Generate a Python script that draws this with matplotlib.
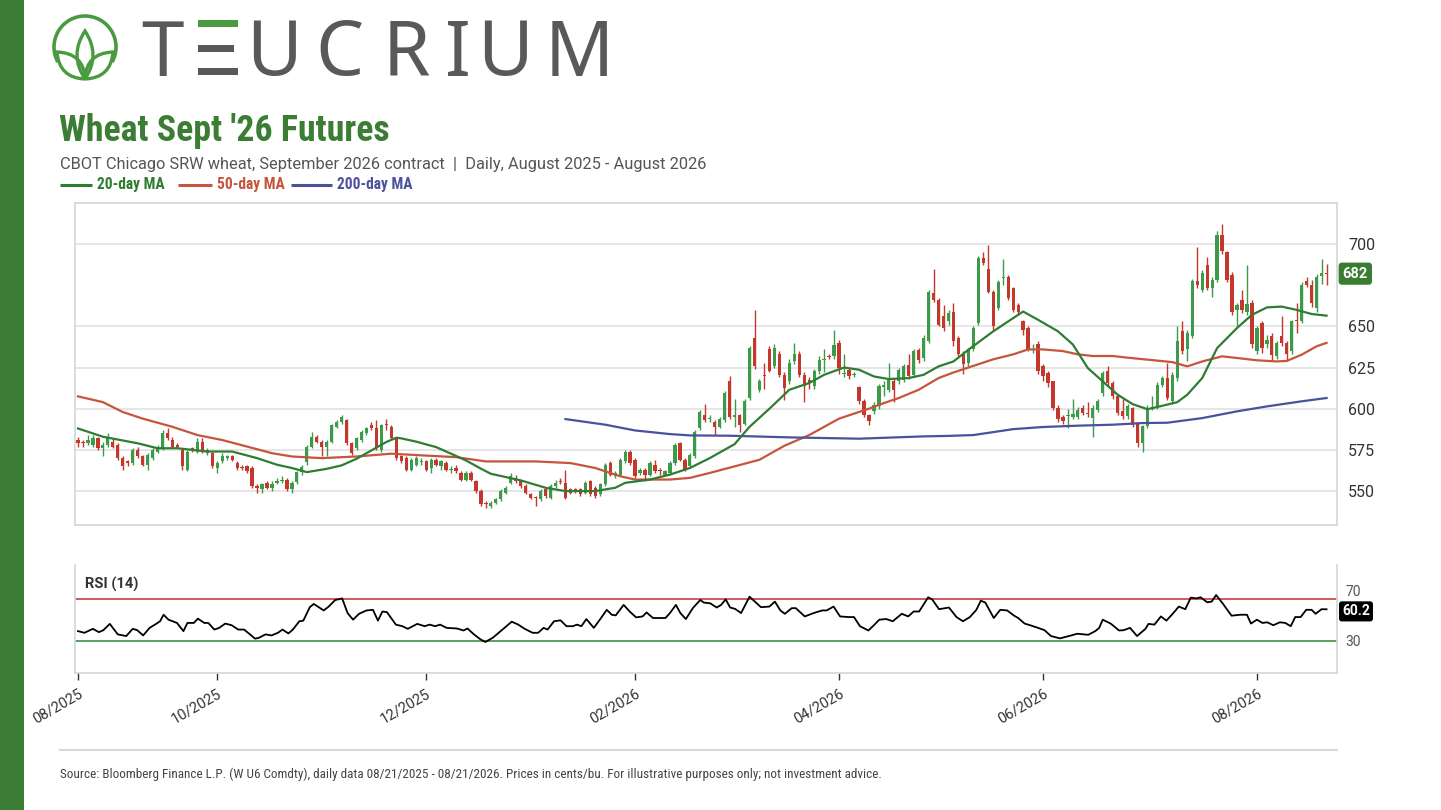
import numpy as np
import pandas as pd
import matplotlib
matplotlib.use("Agg")
import matplotlib.pyplot as plt
from matplotlib import font_manager
from matplotlib.path import Path
from matplotlib.patches import PathPatch, Arc, Rectangle
import matplotlib.transforms as mtransforms

# --- daily OHLC, W U6 (cents/bu) ---
opens = [
    581, 580, 579, 578, 582, 576, 578, 580, 578, 570,
    568, 567, 575, 571, 566, 570, 574, 576, 585, 581,
    578, 575, 563, 576, 574, 580, 573, 573, 564, 568,
    570, 571, 567, 564.5, 565, 564, 553, 551, 555, 552,
    555, 556, 557, 551, 555.5, 561.5, 567.6, 576.7, 582.8, 580,
    577, 580, 589, 592, 593, 579, 576, 581, 585, 590,
    588, 575, 591, 589, 582, 571, 570, 563, 566, 567.5,
    568, 564, 569, 565, 567, 563, 564, 561, 557, 561,
    556, 550, 542.5, 541, 543, 545, 549, 555, 558, 556,
    553, 548, 546.5, 545, 551, 546, 553, 556, 555, 551,
    551, 551, 549, 556, 552, 548, 554, 567, 559, 560,
    568, 574, 569, 561, 563, 560, 566, 562.5, 560, 561,
    567, 579, 569, 565, 571, 588, 596, 593.5, 592, 589,
    593, 617, 595, 596, 591, 606.5, 643, 611.5, 620.5, 636,
    626, 633, 620.6, 616.6, 629, 633, 620.6, 617.6, 613.6, 622.7,
    629.5, 632, 631.8, 640, 621, 623.7, 620.4, 613, 604.5, 596.4,
    598.4, 601.4, 613.4, 611.5, 616.6, 616.6, 617.6, 626.7, 620.6, 635.8,
    630.8, 641, 670, 666, 656, 653, 659, 643, 634, 628,
    636, 652, 691.5, 685, 671, 661, 679.5, 680, 673, 663,
    653, 649, 635.5, 639, 625.7, 621.7, 616.6, 600.4, 594.7, 595.5,
    595, 595, 600.4, 597.5, 594.3, 599.4, 609.5, 622.7, 615.6, 607.5,
    598.4, 595.3, 600.4, 591.3, 579, 589.3, 600, 601.4, 614.6, 618.6,
    604.5, 618.6, 647, 636, 644, 677.3, 672.3, 687.4, 673, 678.3,
    705.3, 695, 681.4, 660, 666, 659, 664, 635, 652, 639,
    644, 632, 644, 640, 635, 653.2, 653, 677.3, 675.3, 661,
    680.4, 682.6,
]
highs = [
    583, 581, 584, 584, 583, 580, 585, 582, 579, 571,
    569, 576, 577, 572, 573, 576, 578, 587, 588, 583,
    579, 576, 575, 577, 582, 582, 576, 574, 568, 573,
    572, 572, 568, 566, 566, 565, 554, 555, 556, 556,
    558, 559, 558, 556, 562, 566, 578, 586, 584, 581,
    581, 591, 593, 596, 594, 580, 583, 587, 589, 592,
    593, 591, 594, 590, 583, 572, 571, 570, 571, 570,
    569, 570, 570, 569, 568, 565, 566, 562, 562, 562,
    557, 551, 544, 544, 546, 551, 553, 561, 560, 557,
    554, 549, 547, 551, 552, 554, 557, 558, 563, 552,
    552, 552, 556, 557, 553, 555, 567, 568, 562, 570,
    575, 575, 570, 564, 564, 568, 569, 564, 563, 568,
    579, 580, 570, 573, 587, 599, 603, 596, 593, 595,
    611, 620, 606, 597, 606, 638, 660, 618, 628, 638,
    639, 635, 622, 630, 640, 635, 622, 619, 624, 632,
    636, 633, 648, 642, 633, 625, 622, 614, 606, 597,
    604, 615, 617, 628, 618, 625, 627, 633, 636, 637,
    645, 672, 685, 667, 663, 660, 664, 644, 635, 637,
    650, 693, 695, 699.5, 672, 678, 691, 681, 674, 664,
    654, 650, 639, 641, 627, 623, 617, 602, 596, 600,
    606, 601, 602, 604, 602, 606, 623, 626, 617, 609,
    606, 603, 601, 592, 590, 602, 608, 616, 620, 628,
    622, 650, 653, 648, 679, 698, 684, 692, 680, 708,
    712, 696, 683, 664, 672, 687, 666, 650, 653, 645,
    646, 641, 656, 641, 654, 664, 677, 680, 678, 682,
    691, 688,
]
lows = [
    577, 577, 578, 577, 575, 571, 577, 576, 569, 563,
    565, 566, 570, 565, 563, 569, 573, 575, 581, 576,
    576, 563, 562, 574, 573, 573, 572, 564, 561, 567,
    569, 568, 563, 563, 561, 552, 549, 549, 551, 550,
    554, 555, 550, 549, 554, 560, 566, 576, 579, 571,
    571, 579, 588, 591, 578, 572, 575, 580, 584, 587,
    575, 574, 587, 581, 569, 567, 562, 562, 565, 566,
    562, 561, 565, 563, 562, 561, 561, 556, 556, 556,
    549, 541, 540, 540, 542, 544, 548, 554, 555, 552,
    548, 545, 541, 544, 546, 545, 552, 554, 545, 548,
    549, 547, 548, 547, 546, 547, 553, 559, 558, 559,
    567, 566, 558, 560, 556, 559, 561, 560, 559, 560,
    566, 568, 562, 564, 570, 587, 592, 592, 584, 588,
    592, 594, 589, 586, 590, 605, 624, 610, 612, 622,
    625, 619, 605, 615, 627, 619, 604, 612, 612, 621,
    622, 630, 630, 621, 619, 618, 619, 603, 595, 590,
    597, 600, 608, 610, 604, 615, 616, 618, 619, 628,
    629, 640, 665, 650, 647, 651, 638, 632, 621, 626,
    635, 651, 687, 670, 648, 660, 675, 666, 659, 657,
    645, 635, 634, 621, 617, 613, 599, 592, 591, 588,
    594, 594, 596, 595, 583, 598, 608, 614, 606, 596,
    594, 594, 589, 577, 574, 588, 599, 600, 613, 605,
    603, 617, 633, 629, 643, 673, 671, 672, 668, 677,
    694, 677, 657, 650, 658, 657, 637, 633, 634, 637,
    629, 630, 638, 629, 633, 646, 652, 674, 662, 659,
    676, 675,
]
closes = [
    579, 579, 581, 582, 576, 578, 583, 577, 570, 565,
    567, 575, 571, 566, 572, 575, 577, 585, 582, 577,
    577, 565, 574, 575, 580, 574, 575, 565, 567, 571,
    571, 569, 564, 564, 562, 553, 552, 554, 552, 554,
    556, 557, 551, 555, 561.5, 564.6, 576.7, 582.8, 579.8, 577,
    580, 590, 592, 595, 579, 573, 582, 586, 588, 588,
    576, 590, 590, 582, 570, 568, 563, 569, 570, 568.5,
    563, 569, 566, 568, 563, 563.5, 562, 557, 561, 557,
    550, 542, 542, 543, 545, 550, 552, 559, 556, 553,
    549, 546, 546, 550, 547, 553, 555, 555.5, 546, 549,
    550.5, 548, 555, 548, 547, 554, 566, 560, 561, 569,
    574, 567, 559, 563, 560, 567, 562, 562, 562, 567,
    578, 569, 563, 572, 585.6, 598, 593, 594, 589, 594,
    609.5, 595, 596, 590, 604.5, 637, 626, 616.6, 620, 623,
    637, 620.6, 612.5, 628, 633, 620.6, 613.6, 615.6, 622.7, 629.8,
    629.8, 631.5, 638.9, 624.7, 621.5, 619.6, 620.6, 604.5, 596.4, 592.3,
    602.4, 613.6, 613.6, 617.6, 611.5, 623.7, 625.7, 619.6, 634.8, 629.8,
    643, 671, 666, 651, 649, 658, 641, 633, 627, 636,
    649, 691.5, 688.5, 671, 650, 677, 680, 667, 660, 659,
    648, 636, 636, 622.7, 619.6, 615.6, 600.4, 594, 592.3, 596,
    597, 599, 597.4, 597, 600.4, 604.5, 621.7, 615.6, 607.5, 597.4,
    595.3, 601.4, 590.3, 579, 589.3, 600.4, 601, 614.6, 618.6, 606.5,
    620.6, 641, 634.8, 646, 677.3, 675, 682.4, 673.3, 678, 705.7,
    695.5, 678.3, 659, 663, 660, 663.6, 639, 649, 636.8, 642,
    632.8, 640, 640, 633, 653, 653, 675, 675.3, 664, 680,
    682.4, 682,
]

# CBOT holidays inside the window (no trading)
holidays = ["2025-09-01", "2025-11-27", "2025-12-25", "2026-01-01", "2026-01-19",
            "2026-02-16", "2026-04-03", "2026-05-25", "2026-06-19", "2026-07-03"]
tick_months = ["2025-08", "2025-10", "2025-12", "2026-02", "2026-04", "2026-06", "2026-08"]

# moving averages, (trading day, value)
ma20_day = [0, 5, 12, 16, 20, 26, 31, 36, 40, 43, 46, 50, 53, 56, 59, 62, 64, 65, 68, 72,
            75, 78, 81, 83, 86, 89, 94, 98, 104, 108, 110, 115, 119, 123, 127, 132, 135, 139, 143, 147,
            150, 154, 157, 160, 163, 167, 170, 173, 176, 179, 184, 188, 190, 193, 197, 200, 203, 206, 209, 212,
            215, 218, 221, 223, 226, 229, 233, 236, 239, 242, 245, 248, 251]
ma20_val = [588, 583, 579, 576, 576, 574, 574, 570, 566, 564, 561.5, 563.5, 565.6, 569.6, 574.7, 579.8, 582.4, 582, 580, 576.7,
            572.7, 568.6, 563.6, 560.5, 558.5, 556.5, 552, 550, 550, 552, 555, 557, 560, 564, 570, 578.5, 589, 600, 611.5, 615.6,
            620.6, 625, 623.7, 619.6, 618, 618.6, 620.6, 625.7, 628.7, 635.8, 647, 655, 659, 654, 647, 639, 624.7, 616.6, 608.5, 602.8,
            599.7, 601.8, 604, 608.5, 618.6, 636.8, 649, 657, 661.5, 662, 660, 657.5, 656.5]
ma50_day = [0, 5, 9, 13, 19, 24, 29, 34, 39, 43, 49, 56, 63, 69, 76, 82, 86, 92, 99, 104,
            109, 112, 119, 123, 127, 132, 137, 142, 147, 150, 153, 157, 159, 162, 165, 169, 173, 176, 179, 184,
            188, 191, 194, 198, 201, 204, 208, 211, 216, 220, 223, 226, 230, 233, 237, 241, 243, 246, 249, 251]
ma50_val = [607.5, 604, 598, 594, 589, 584, 581, 577, 573, 571, 570, 571, 572.7, 571.7, 570.6, 568, 568, 568, 567, 564,
            559, 557, 557, 558, 561, 565, 569, 577.5, 584, 589, 594, 598, 600, 603.4, 606.5, 611.5, 618.6, 622, 625, 630,
            633, 636, 636, 635, 633, 632, 632, 631, 629.5, 628.3, 625.7, 628.7, 631.8, 630.8, 629.4, 628.7, 629, 632.8, 637.9, 640]
ma200_day = [98, 106, 112, 119, 123, 131, 143, 157, 170, 175, 180, 188, 194, 201, 208, 214, 219, 226, 233, 239, 246, 251]
ma200_val = [593.7, 590.3, 586.8, 584.6, 583.8, 583.6, 582.6, 581.8, 583.2, 583.5, 584, 587.6, 588.9, 589.7, 590.3, 591.3,
             591.5, 594.3, 598.4, 601.4, 604.5, 606.5]

# RSI(14), (trading day, value)
rsi_day = [0, 1.3, 3, 4.2, 5.1, 6.4, 8, 9.7, 11, 11.9, 13.1, 14.4, 15.7, 16.5, 17.2, 18.2, 19.9, 21.2, 22, 23.3,
           24.1, 25.4, 26.2, 27.4, 28.4, 29.6, 30.9, 32.2, 33.4, 35.6, 36.4, 37.7, 38.9, 40.2, 41.1, 42.3, 43.2, 44.5, 45.3, 46.6,
           47.4, 49.4, 50.4, 51.7, 53.1, 54.2, 55.3, 56.5, 58, 59.3, 60.3, 61.2, 62.1, 63.9, 65.2, 66.3, 68.2, 69.7, 70.7, 71.8,
           72.8, 74.1, 76.2, 77.5, 78.3, 79.6, 80.9, 81.9, 83.4, 85.5, 87.2, 88.5, 89.8, 91.4, 92.5, 93.6, 94.4, 95.7, 97, 98.2,
           99.5, 100.3, 101.2, 102.2, 103.7, 105, 106.3, 107.3, 108.1, 109.7, 110.9, 112.2, 113.5, 114.3, 115.6, 118.1, 119, 120.2, 121.1, 122.2,
           123.6, 125.1, 125.8, 127.1, 128.4, 129.3, 130.2, 131.1, 132.1, 133.3, 135, 137.3, 139, 140.1, 141.2, 142.1, 143.5, 144.3, 146.1, 147.9,
           149.6, 150.5, 151.9, 153.2, 154.9, 156, 157.2, 158.9, 159.8, 161.1, 162.5, 163.8, 165.6, 166.9, 168, 169.1, 170.9, 171.7, 173.1, 175.1,
           176.6, 177.9, 179.3, 180.6, 181.5, 182.4, 184.1, 185.4, 186.8, 188.1, 189, 190.3, 191.6, 193, 194.3, 195.6, 197.4, 199.2, 200.9, 203.1,
           204.5, 205.3, 206, 207.6, 209.3, 210.2, 211.5, 212.9, 214.6, 215.2, 216.4, 217.7, 218.8, 219.9, 221.3, 222.6, 223.7, 224.8, 225.7, 227,
           227.9, 228.8, 230.1, 231.9, 233.6, 235, 235.8, 237, 238.1, 239.1, 240.3, 241.6, 242.7, 243.8, 244.7, 245.8, 246.9, 248, 248.8, 250,
           251]
rsi_val = [39.4, 37.8, 41.6, 38.4, 40.3, 46.3, 36.3, 34.7, 41.6, 40.3, 35.3, 42.5, 46.3, 48.8, 55, 50.3, 47.2, 39.4, 47.2, 47.2,
           51.3, 47.2, 47.2, 40.9, 42.5, 46.6, 45, 40.9, 40.9, 32.2, 33.1, 36.3, 35.3, 37.8, 40.9, 37.2, 40.9, 48.8, 49.4, 62.2,
           65.3, 59.1, 62.8, 69, 70.6, 56.6, 50.3, 55.9, 59.1, 59.7, 49.4, 58.1, 57.5, 45.6, 44.1, 41.6, 46.3, 44.1, 45.6, 44.1,
           45.6, 42.5, 41.9, 40, 41.9, 36.3, 31.6, 29.1, 33.1, 41.6, 48.4, 45.6, 41.6, 37.8, 37.8, 42.5, 40.9, 48.8, 49.7, 44.1,
           44.1, 45.6, 44.1, 50.9, 42.5, 50.9, 59.7, 55, 54.4, 64.4, 58.1, 52.5, 53.4, 57.2, 51.9, 51.9, 56.6, 64.4, 56.6, 50.9,
           61.3, 69.1, 66.6, 65.9, 61.9, 64.4, 69.7, 61.9, 60.6, 56.6, 72.2, 62.2, 62.8, 67.5, 59.1, 55.9, 61.3, 61.3, 53.4, 56.6,
           59.1, 59.1, 62.8, 53.4, 52.8, 52.8, 44.1, 40, 44.1, 50.3, 50.9, 48.8, 55.9, 53.4, 58.1, 58.1, 71.6, 69.7, 60.3, 61.9,
           52.8, 48.8, 52.8, 59.7, 68.4, 66.6, 51.9, 59.7, 59.1, 54.4, 51.9, 46.6, 44.7, 42.5, 40.3, 34.7, 32.5, 34.7, 36.9, 35.9,
           39.4, 42.5, 50.3, 46.6, 40, 40.3, 42.5, 34.7, 41.6, 46.3, 45.6, 53.4, 49.4, 55, 62.8, 60.3, 71.3, 70.6, 71.6, 66.9,
           67.5, 73.8, 65.9, 54.1, 55, 55, 46.6, 50.3, 47.2, 47.8, 45, 47.8, 47.2, 44.1, 52.8, 52.8, 59.7, 59.7, 55.9, 60.3,
           60.2]

GREEN_UP = "#3c9a4b"
RED_DN = "#c4372c"
MA20_C = "#2e7d32"
MA50_C = "#c5553d"
MA200_C = "#4a529b"
BRAND = "#3b7d34"
GREY_TXT = "#58595b"


def pick(names):
    have = {f.name for f in font_manager.fontManager.ttflist}
    return [n for n in names if n in have] + ["DejaVu Sans"]


F_TITLE = pick(["Roboto Condensed", "Liberation Sans Narrow", "Roboto"])
F_TEXT = pick(["Roboto", "Liberation Sans"])
plt.rcParams["font.family"] = F_TEXT

W, H = 1441, 810
fig = plt.figure(figsize=(W / 100, H / 100), dpi=100)
fig.patch.set_facecolor("white")


def fx(px):
    return px / W


def fy(py):
    return 1 - py / H


# overlay in pixel coords for branding / header / footer
ov = fig.add_axes([0, 0, 1, 1], zorder=0)
ov.set_xlim(0, W)
ov.set_ylim(H, 0)
ov.axis("off")

ov.add_patch(Rectangle((0, 0), 24, H, color=BRAND, lw=0))

# logo icon
leaf_c = "#4a9b3f"
ov.add_patch(Arc((85, 47), 62, 62, theta1=151, theta2=389, color=leaf_c, lw=2.6))
for pts in [
    [(85, 79), (69, 55), (85, 31), (101, 55), (85, 79)],
    [(85, 79), (59, 78), (57, 52), (84, 53), (85, 79)],
    [(85, 79), (111, 78), (113, 52), (86, 53), (85, 79)],
]:
    codes = [Path.MOVETO, Path.CURVE3, Path.CURVE3, Path.CURVE3, Path.CURVE3]
    ov.add_patch(PathPatch(Path(pts, codes), fill=False, ec=leaf_c, lw=2.4))

# wordmark
for ch, cx in [("T", 162), ("U", 274), ("C", 340), ("R", 406), ("I", 458), ("U", 505), ("M", 579)]:
    ov.text(cx, 75.5, ch, fontsize=55, color=GREY_TXT, ha="center", va="baseline",
            family=pick(["Noto Sans", "DejaVu Sans"]))
ov.add_patch(Rectangle((198, 20), 40, 7, color=leaf_c, lw=0))
ov.add_patch(Rectangle((198, 45), 36, 7, color=GREY_TXT, lw=0))
ov.add_patch(Rectangle((198, 68), 40, 7, color=GREY_TXT, lw=0))

ov.text(59, 141, "Wheat Sept '26 Futures", fontsize=25.8, fontweight="bold", color=BRAND,
        family=F_TITLE, va="baseline")
ov.text(60, 164, "CBOT Chicago SRW wheat, September 2026 contract  |  Daily, August 2025 - August 2026",
        fontsize=11.8, color="#555555", va="center")

for (lx0, lx1), lab, col in [((60, 92), "20-day MA", MA20_C),
                             ((178, 212), "50-day MA", MA50_C),
                             ((291, 332), "200-day MA", MA200_C)]:
    ov.plot([lx0, lx1], [185, 185], color=col, lw=2.2, solid_capstyle="butt")
    ov.text(lx1 + 5, 185, lab, fontsize=11.2, fontweight="bold", color=col, va="center",
            family=F_TITLE)

ov.plot([60, 1337], [750, 750], color="#d9d9d9", lw=1.5)
ov.text(60, 774, "Source: Bloomberg Finance L.P. (W U6 Comdty), daily data 08/21/2025 - 08/21/2026. "
        "Prices in cents/bu. For illustrative purposes only; not investment advice.",
        fontsize=9.5, color="#444444", va="center", family=F_TITLE)

# trading calendar and ticks
dates = pd.bdate_range("2025-08-21", "2026-08-21", freq="C", holidays=holidays)
n = len(closes)
idx = np.arange(n)
tick_pos = [int(np.searchsorted(dates.values, np.datetime64(m + "-01"))) for m in tick_months]
tick_lab = [pd.Timestamp(m + "-01").strftime("%m/%Y") for m in tick_months]

# --- price panel ---
left, right = fx(75), fx(1337)
ax = fig.add_axes([left, fy(525), right - left, fy(203) - fy(525)], zorder=2)
ax.patch.set_alpha(0)
o = np.array(opens, float)
c = np.array(closes, float)
hi = np.array(highs, float)
lo = np.array(lows, float)
up = c >= o
cols = np.where(up, GREEN_UP, RED_DN)
ax.vlines(idx, lo, hi, colors=cols, lw=1.0, zorder=3)
body = np.maximum(np.abs(c - o), 0.7)
ax.bar(idx, body, bottom=np.minimum(o, c), width=0.66, color=cols, lw=0, zorder=4)

ax.plot(ma50_day, ma50_val, color=MA50_C, lw=1.6, zorder=5)
ax.plot(ma200_day, ma200_val, color=MA200_C, lw=1.6, zorder=5)
ax.plot(ma20_day, ma20_val, color=MA20_C, lw=1.6, zorder=6)

ax.set_xlim(-0.6, 253.1)
ax.set_ylim(529.4, 724.9)
ax.set_yticks([550, 575, 600, 625, 650, 700])
ax.yaxis.tick_right()
ax.tick_params(axis="y", length=0, pad=8, labelsize=11.5, labelcolor="#333333")
ax.set_xticks(tick_pos)
ax.tick_params(axis="x", length=0, labelbottom=False)
ax.grid(axis="y", color="#e1e1e1", lw=1.2, zorder=0)
ax.grid(axis="x", visible=False)
for s in ax.spines.values():
    s.set_color("#d6d6d6")
    s.set_linewidth(1.2)

last = closes[-1]
ax.text(1.0045, last, f"{last:.0f}", transform=mtransforms.blended_transform_factory(ax.transAxes, ax.transData),
        ha="left", va="center", color="white", fontsize=10.5, fontweight="bold",
        bbox=dict(boxstyle="round,pad=0.28,rounding_size=0.25", fc="#3a7d32", ec="none"))

# --- RSI panel ---
ax2 = fig.add_axes([left, fy(673), right - left, fy(565) - fy(673)], zorder=2)
ax2.patch.set_alpha(0)
ax2.axhline(70, color="#d05a55", lw=1.4, zorder=2)
ax2.axhline(30, color="#5c9e63", lw=1.4, zorder=2)
ax2.plot(rsi_day, rsi_val, color="black", lw=1.3, zorder=3)
ax2.set_xlim(-0.6, 253.1)
ax2.set_ylim(-0.5, 102.4)
ax2.set_yticks([30, 70])
ax2.yaxis.tick_right()
ax2.tick_params(axis="y", length=0, pad=6, labelsize=10, labelcolor="#555555")
for lbl in ax2.get_yticklabels():
    if lbl.get_text() == "70":
        lbl.set_va("bottom")
ax2.set_xticks(tick_pos)
ax2.set_xticklabels(tick_lab, rotation=30, ha="right", rotation_mode="anchor")
ax2.tick_params(axis="x", length=5, width=1, color="#333333", pad=5, labelsize=10.5,
                labelcolor="#333333")
ax2.spines["top"].set_visible(False)
for k in ["left", "right", "bottom"]:
    ax2.spines[k].set_color("#d6d6d6")
    ax2.spines[k].set_linewidth(1.2)
ax2.text(0.008, 0.82, "RSI (14)", transform=ax2.transAxes, fontsize=10.5, fontweight="bold",
         color="#333333", va="center")
ax2.text(1.004, rsi_val[-1] - 2, f"{rsi_val[-1]:.1f}",
         transform=mtransforms.blended_transform_factory(ax2.transAxes, ax2.transData),
         ha="left", va="center", color="white", fontsize=10, fontweight="bold", zorder=5,
         bbox=dict(boxstyle="round,pad=0.22,rounding_size=0.2", fc="black", ec="none"))

fig.savefig("out.png", dpi=100, facecolor="white")
